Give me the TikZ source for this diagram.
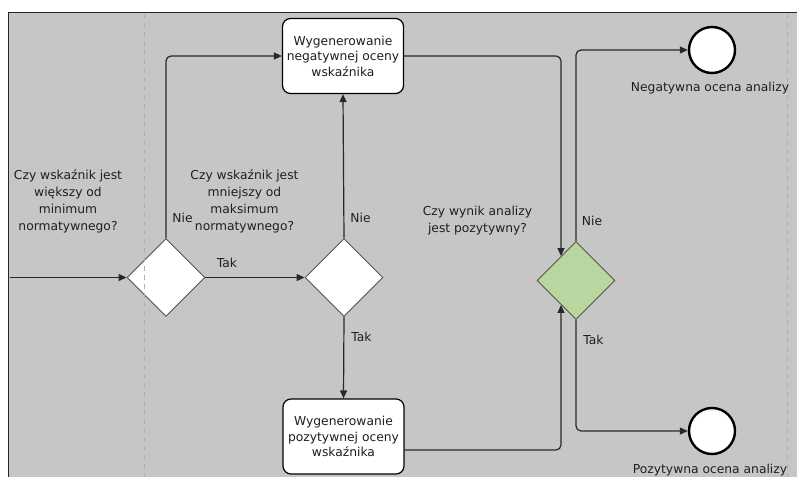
\documentclass[tikz,border=0pt]{standalone}
\usepackage{fontspec}
\setmainfont{DejaVu Sans}
\usetikzlibrary{shapes.geometric,arrows.meta,calc}

\definecolor{lanegray}{RGB}{200,198,196}
\definecolor{lanedash}{RGB}{178,176,174}
\definecolor{gatewaygreen}{RGB}{183,214,160}
\definecolor{inkdark}{RGB}{40,40,40}
\definecolor{textdark}{RGB}{30,30,35}

\tikzset{
  lbl/.style={font=\fontsize{12.3}{17}\selectfont, text=textdark, inner sep=0pt, align=center},
  gateway/.style={diamond, draw=inkdark!80, line width=0.9pt, fill=white,
    minimum width=78pt, minimum height=78pt, inner sep=0pt},
  taskbox/.style={rectangle, rounded corners=8pt, draw=black, line width=1.2pt, fill=white,
    minimum width=121pt, minimum height=75pt, inner sep=0pt, align=center,
    font=\fontsize{12.3}{15.5}\selectfont, text=textdark},
  endevent/.style={circle, draw=black, line width=2.4pt, fill=white,
    minimum size=46pt, inner sep=0pt},
  flow/.style={draw=inkdark, line width=1.2pt, rounded corners=5pt,
    -{Triangle[length=8pt,width=7pt]}},
  lanesep/.style={draw=lanedash, line width=1pt, dash pattern=on 5pt off 4pt},
}

\begin{document}
\begin{tikzpicture}[x=1pt,y=-1pt]
  % page frame
  \useasboundingbox (0,0) rectangle (797,477);
  \fill[white] (0,0) rectangle (797,477);

  % pool background and its borders
  \fill[lanegray] (8,12) rectangle (797,477);
  \draw[black!85, line width=1.5pt] (8.5,477) -- (8.5,12.5) -- (797,12.5);

  % flow objects
  \node[gateway] (g1) at (166,277.5) {};
  \node[gateway] (g2) at (344,277.5) {};
  \node[gateway, fill=gatewaygreen] (g3) at (576,280.5) {};

  \node[taskbox] (t1) at (343,56) {Wygenerowanie\\negatywnej oceny\\wskaźnika};
  \node[taskbox] (t2) at (343.5,436.5) {Wygenerowanie\\pozytywnej oceny\\wskaźnika};

  \node[endevent] (e1) at (712,50) {};
  \node[endevent] (e2) at (712,431) {};

  \coordinate (in) at (9.5,277.5);

  % sequence flows
  \draw[flow] (in) -- (g1.west);
  \draw[flow] (g1.east) -- (g2.west);
  \draw[flow] (g1.north) |- (t1.west);
  \draw[flow] (g2.north) -- (t1.south);
  \draw[flow] (g2.south) -- (t2.north);
  \draw[flow] (t1.east) -| ($(g3.north)!0.38!(g3.west)$);
  \draw[flow] ([yshift=-13.5pt]t2.east) -| ($(g3.south)!0.38!(g3.west)$);
  \draw[flow] (g3.north) |- (e1.west);
  \draw[flow] (g3.south) |- (e2.west);

  % lane separators
  \draw[lanesep] (144,14) -- (144,477);
  \draw[lanesep] (787,14) -- (787,477);

  % texts
  \node[lbl] (q1) at (68,201.5) {Czy wskaźnik jest\\większy od\\minimum\\normatywnego?};
  \node[lbl] (q2) at (244.5,201.5) {Czy wskaźnik jest\\mniejszy od\\maksimum\\normatywnego?};
  \node[lbl] (q3) at (477.5,221) {Czy wynik analizy\\jest pozytywny?};

  \node[lbl] (n1) at (182.5,218) {Nie};
  \node[lbl] (n2) at (360.5,218) {Nie};
  \node[lbl] (n3) at (592,221) {Nie};
  \node[lbl] (y1) at (227,263) {Tak};
  \node[lbl] (y2) at (361.5,337) {Tak};
  \node[lbl] (y3) at (593.5,340) {Tak};

  \node[lbl] (l1) at (710,88) {Negatywna ocena analizy};
  \node[lbl] (l2) at (710,470) {Pozytywna ocena analizy};
\end{tikzpicture}
\end{document}
